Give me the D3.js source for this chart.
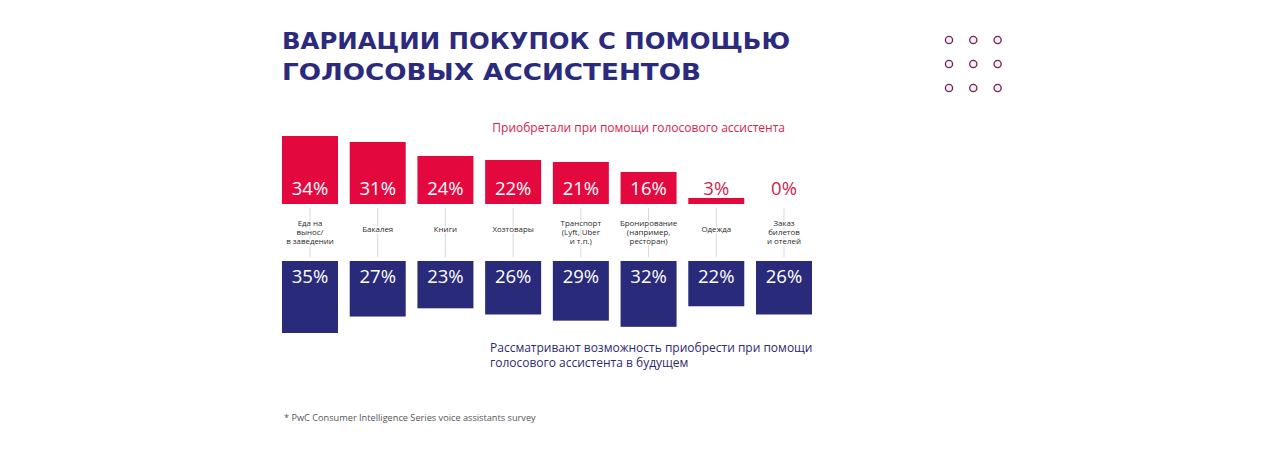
<!DOCTYPE html>
<html><head><meta charset="utf-8">
<script src="https://cdn.jsdelivr.net/npm/d3@7"></script>
<style>body{margin:0;background:#fff}</style>
</head><body><div id="chart"></div>
<script>
const categories = [
  ["Еда на","вынос/","в заведении"],
  ["Бакалея"],
  ["Книги"],
  ["Хозтовары"],
  ["Транспорт","(Lyft, Uber","и т.п.)"],
  ["Бронирование","(например,","ресторан)"],
  ["Одежда"],
  ["Заказ","билетов","и отелей"]
];
const purchased = [34, 31, 24, 22, 21, 16, 3, 0];
const considering = [35, 27, 23, 26, 29, 32, 22, 26];
const titleLines = ["ВАРИАЦИИ ПОКУПОК С ПОМОЩЬЮ", "ГОЛОСОВЫХ АССИСТЕНТОВ"];
const redCaption = "Приобретали при помощи голосового ассистента";
const blueCaption = ["Рассматривают возможность приобрести при помощи", "голосового ассистента в будущем"];
const footnote = "* PwC Consumer Intelligence Series voice assistants survey";

const W = 1275, H = 450;
const RED = "#e3093f", BLUE = "#2a2a7a", TITLE = "#2c2a7c";
const svg = d3.select("#chart").append("svg").attr("width", W).attr("height", H)
  .style("font-family", "'Open Sans', sans-serif");

// title
const tWidths = [508, 419];
titleLines.forEach((t, i) => {
  svg.append("text").attr("x", 282).attr("y", 49 + i * 30.5)
    .attr("font-family", "'DejaVu Sans', sans-serif").attr("font-weight", 700)
    .attr("font-size", 23).attr("fill", TITLE)
    .attr("textLength", tWidths[i]).attr("lengthAdjust", "spacingAndGlyphs")
    .text(t);
});

// dots grid
const dotIdx = d3.range(9);
svg.append("g").selectAll("circle").data(dotIdx).join("circle")
  .attr("cx", d => 949 + (d % 3) * 24.3)
  .attr("cy", d => 40 + Math.floor(d / 3) * 24)
  .attr("r", 3.6).attr("fill", "#fdeef5").attr("stroke", "#6d2457").attr("stroke-width", 1.3);

// scales
const x = d3.scaleBand().domain(d3.range(categories.length)).range([282, 812]).paddingInner(0.173).paddingOuter(0);
const yRed = d3.scaleLinear().domain([0, 35]).range([0, 70]);
const yBlue = d3.scaleLinear().domain([0, 35]).range([0, 72]);
const redBase = 204, blueTop = 261;

// connectors
svg.append("g").selectAll("line").data(categories).join("line")
  .attr("x1", (d, i) => x(i) + x.bandwidth() / 2).attr("x2", (d, i) => x(i) + x.bandwidth() / 2)
  .attr("y1", redBase + 4).attr("y2", blueTop - 4)
  .attr("stroke", "#d9d9d9").attr("stroke-width", 1);

// category labels
const lab = svg.append("g").selectAll("text").data(categories).join("text")
  .attr("text-anchor", "middle").attr("font-size", 7.9).attr("fill", "#2b2b2b")
  .attr("stroke", "#fff").attr("stroke-width", 2.5).attr("paint-order", "stroke")
  .attr("transform", (d, i) => `translate(${x(i) + x.bandwidth() / 2},${d.length === 1 ? 232 : 226})`);
lab.selectAll("tspan").data(d => d).join("tspan")
  .attr("x", 0).attr("dy", (d, j) => j === 0 ? 0 : 8.8).text(d => d);

// red bars
svg.append("g").selectAll("rect").data(purchased).join("rect")
  .attr("x", (d, i) => x(i)).attr("width", x.bandwidth())
  .attr("y", d => redBase - yRed(d)).attr("height", d => yRed(d))
  .attr("fill", RED);
svg.append("g").selectAll("text").data(purchased).join("text")
  .attr("x", (d, i) => x(i) + x.bandwidth() / 2).attr("y", 195)
  .attr("text-anchor", "middle").attr("font-size", 18.5)
  .attr("fill", d => yRed(d) > 20 ? "#fff" : "#d41c4c")
  .text(d => d + "%");

// blue bars
svg.append("g").selectAll("rect").data(considering).join("rect")
  .attr("x", (d, i) => x(i)).attr("width", x.bandwidth())
  .attr("y", blueTop).attr("height", d => yBlue(d))
  .attr("fill", BLUE);
svg.append("g").selectAll("text").data(considering).join("text")
  .attr("x", (d, i) => x(i) + x.bandwidth() / 2).attr("y", 282.5)
  .attr("text-anchor", "middle").attr("font-size", 18.5).attr("fill", "#fff")
  .text(d => d + "%");

// captions
svg.append("text").attr("x", 785).attr("y", 132).attr("text-anchor", "end")
  .attr("font-size", 12).attr("fill", "#d4234d").text(redCaption);
blueCaption.forEach((t, i) => {
  svg.append("text").attr("x", 490).attr("y", 352 + i * 15)
    .attr("font-size", 12).attr("fill", "#2e2b6e").text(t);
});
svg.append("text").attr("x", 284).attr("y", 421).attr("font-size", 9.2)
  .attr("fill", "#555").text(footnote);
</script></body></html>
